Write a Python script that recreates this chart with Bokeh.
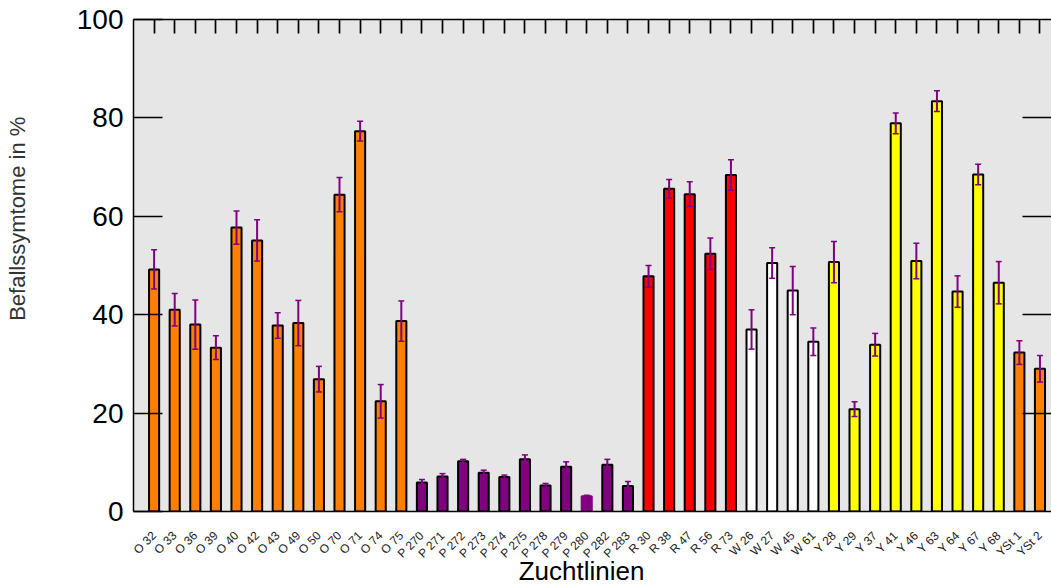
from math import pi

from bokeh.embed import file_html
from bokeh.models import (ColumnDataSource, FixedTicker, LinearAxis, Range1d,
                          TeeHead, Whisker)
from bokeh.plotting import figure
from bokeh.resources import INLINE

# Zuchtlinien und mittlerer Befall (%) mit Standardfehler
linien = [
    "O 32", "O 33", "O 36", "O 39", "O 40", "O 42", "O 43", "O 49", "O 50",
    "O 70", "O 71", "O 74", "O 75",
    "P 270", "P 271", "P 272", "P 273", "P 274", "P 275", "P 278", "P 279",
    "P 280", "P 282", "P 283",
    "R 30", "R 38", "R 47", "R 56", "R 73",
    "W 26", "W 27", "W 45", "W 61",
    "Y 28", "Y 29", "Y 37", "Y 41", "Y 46", "Y 63", "Y 64", "Y 67", "Y 68",
    "YSt 1", "YSt 2",
]
befall = [
    49.2, 41.0, 38.0, 33.3, 57.7, 55.1, 37.8, 38.3, 26.9, 64.4, 77.3, 22.4, 38.7,
    5.9, 7.1, 10.2, 7.9, 7.0, 10.6, 5.3, 9.1, 3.1, 9.5, 5.2,
    47.8, 65.6, 64.5, 52.4, 68.4,
    37.0, 50.5, 44.9, 34.5,
    50.7, 20.8, 33.9, 78.9, 50.9, 83.4, 44.7, 68.5, 46.5,
    32.3, 29.0,
]
fehler = [
    4.0, 3.3, 5.0, 2.4, 3.4, 4.2, 2.6, 4.6, 2.6, 3.5, 2.0, 3.4, 4.1,
    0.6, 0.6, 0.4, 0.5, 0.4, 0.9, 0.4, 1.0, 0.2, 1.1, 0.9,
    2.2, 1.9, 2.5, 3.2, 3.1,
    4.0, 3.1, 4.9, 2.8,
    4.2, 1.5, 2.3, 2.1, 3.6, 2.1, 3.2, 2.1, 4.3,
    2.4, 2.7,
]
y_ticks = [0, 20, 40, 60, 80, 100]
x_titel_text = "Zuchtlinien"
y_titel_text = "Befallssymtome in %"

gruppen_farben = {
    "O": "#ff8000",
    "P": "#800080",
    "R": "#ff0000",
    "W": "#ffffff",
    "Y": "#ffff00",
    "YSt": "#ff8000",
}
FEHLER_FARBE = "#800080"
FONT = "Liberation Sans"

# Lage der Achsentitel (in Achsenkoordinaten)
X_TITEL_POS = 21.75
Y_TITEL_POS = 59.5

pos = list(range(1, len(linien) + 1))
farbe = [gruppen_farben[n.split(" ")[0]] for n in linien]
rand = [FEHLER_FARBE if n == "P 280" else "#000000" for n in linien]

src = ColumnDataSource(dict(
    x=pos,
    top=befall,
    farbe=farbe,
    rand=rand,
    lower=[b - f for b, f in zip(befall, fehler)],
    upper=[b + f for b, f in zip(befall, fehler)],
))

p = figure(
    width=1051, height=588,
    x_range=Range1d(0, 44.56), y_range=Range1d(0, 100),
    output_backend="svg", toolbar_location=None,
    x_axis_location=None, y_axis_location=None,
    min_border_left=133, min_border_right=0,
    min_border_top=19, min_border_bottom=76,
    background_fill_color="#e6e6e6", border_fill_color="white",
    outline_line_color=None,
)
p.grid.visible = False

p.vbar(x="x", top="top", bottom=0, width=0.49, source=src,
       fill_color="farbe", line_color="rand", line_width=2)

whisker = Whisker(
    source=src, base="x", lower="lower", upper="upper",
    line_color=FEHLER_FARBE, line_width=2, level="overlay",
    upper_head=TeeHead(size=6, line_color=FEHLER_FARBE, line_width=1.5),
    lower_head=TeeHead(size=6, line_color=FEHLER_FARBE, line_width=1.5),
)
p.add_layout(whisker)

# untere Achse mit gedrehten Linienbezeichnungen
x_unten = LinearAxis(
    ticker=FixedTicker(ticks=pos),
    major_label_overrides={i: n for i, n in zip(pos, linien)},
    major_label_orientation=pi / 4,
    major_label_text_font=FONT, major_label_text_font_size="12px",
    major_label_text_color="#222222", major_label_standoff=22,
    major_tick_in=0, major_tick_out=0,
    major_tick_line_color=None, minor_tick_line_color=None,
    axis_line_color="black", axis_line_width=1.5,
)
p.add_layout(x_unten, "below")

# Titel der x-Achse als einzelne Beschriftung unter den Linien
x_titel = LinearAxis(
    ticker=FixedTicker(ticks=[X_TITEL_POS]),
    major_label_overrides={X_TITEL_POS: x_titel_text},
    major_label_text_font=FONT, major_label_text_font_size="26px",
    major_label_text_color="black", major_label_standoff=-13,
    major_tick_in=0, major_tick_out=0,
    major_tick_line_color=None, minor_tick_line_color=None,
    axis_line_color=None,
)
p.add_layout(x_titel, "below")

# obere Achse: nur Striche nach innen, ohne Beschriftung
x_oben = LinearAxis(
    ticker=FixedTicker(ticks=pos),
    major_label_text_font_size="1px", major_label_text_color=None,
    major_label_standoff=0,
    major_tick_in=14, major_tick_out=0, major_tick_line_width=1.7,
    minor_tick_line_color=None,
    axis_line_color="black", axis_line_width=1.5,
)
p.add_layout(x_oben, "above")

y_links = LinearAxis(
    ticker=FixedTicker(ticks=y_ticks),
    major_label_text_font=FONT, major_label_text_font_size="28px",
    major_label_text_color="black", major_label_standoff=10,
    major_tick_in=29, major_tick_out=0, major_tick_line_width=1.5,
    minor_tick_line_color=None,
    axis_line_color="black", axis_line_width=1.5,
)
p.add_layout(y_links, "left")

# Titel der y-Achse, senkrecht, oberhalb der Mitte
y_titel = LinearAxis(
    ticker=FixedTicker(ticks=[Y_TITEL_POS]),
    major_label_overrides={Y_TITEL_POS: y_titel_text},
    major_label_orientation="vertical",
    major_label_text_font=FONT, major_label_text_font_size="22px",
    major_label_text_color="#333333", major_label_standoff=43,
    major_tick_in=0, major_tick_out=0,
    major_tick_line_color=None, minor_tick_line_color=None,
    axis_line_color=None,
)
p.add_layout(y_titel, "left")

y_rechts = LinearAxis(
    ticker=FixedTicker(ticks=y_ticks[1:-1]),
    major_label_text_font_size="1px", major_label_text_color=None,
    major_label_standoff=0,
    major_tick_in=29, major_tick_out=0, major_tick_line_width=1.5,
    minor_tick_line_color=None, axis_line_color=None,
)
p.add_layout(y_rechts, "right")

open("out.html", "w").write(file_html(p, INLINE))
